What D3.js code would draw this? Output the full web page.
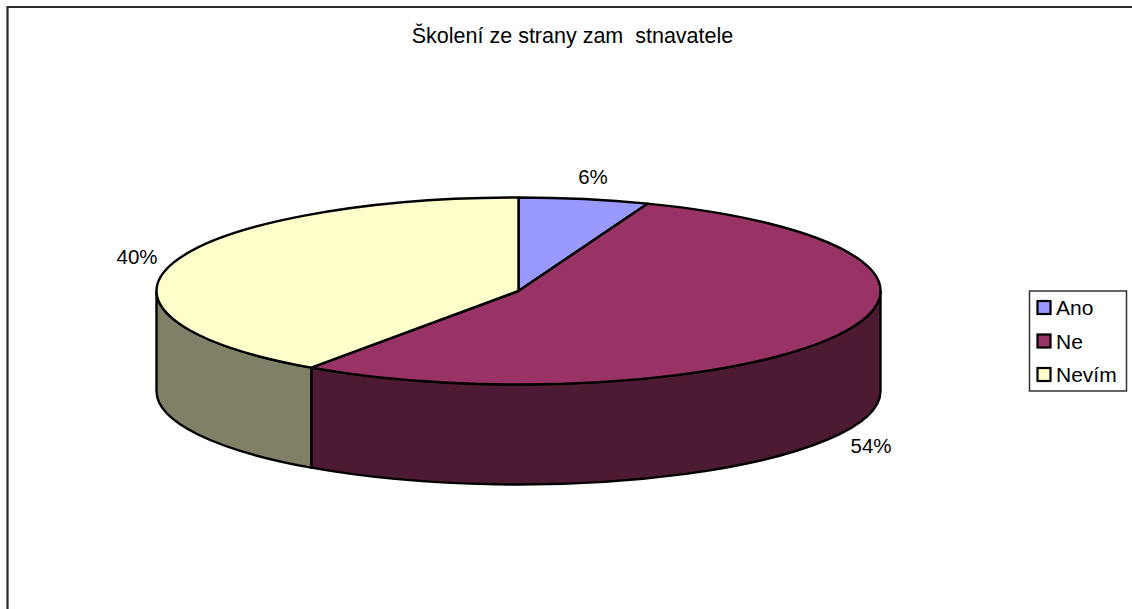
<!DOCTYPE html>
<html><head><meta charset="utf-8">
<script src="https://cdn.jsdelivr.net/npm/d3@7"></script>
<style>html,body{margin:0;padding:0;background:#fff}svg{display:block}text{font-family:"Liberation Sans",Arial,sans-serif;fill:#000;white-space:pre}</style>
</head><body><script>
const categories=["Ano","Ne","Nevím"];
const values=[5.8,53.9,40.3];
const labels=["6%","54%","40%"];
const topColors=["#9999FF","#993366","#FFFFCC"];
const sideColors=["#4D4D80","#4D1A33","#808066"];
const titleText="Školení ze strany zam  stnavatele";
const W=1132,H=609,cx=518.5,cy=291,rx=362,ry=93.5,depth=100;
const svg=d3.select("body").append("svg").attr("width",W).attr("height",H);
const x=d3.scaleLinear().domain([-1,1]).range([cx-rx,cx+rx]);
const y=d3.scaleLinear().domain([-1,1]).range([cy+ry,cy-ry]);
const px=a=>x(Math.sin(a)),py=a=>y(Math.cos(a));
const arcs=d3.pie().sort(null)(values);
// frame
svg.append("path").attr("d",`M7.5 ${H}V7H${W}`).attr("fill","none").attr("stroke","#2a2a2a").attr("stroke-width",2.2);
svg.append("text").attr("x",572.5).attr("y",43).attr("text-anchor","middle").attr("font-size",21.5).text(titleText);
// walls
const front0=Math.PI/2,front1=Math.PI*1.5;
arcs.forEach((d,i)=>{
  const a0=Math.max(d.startAngle,front0),a1=Math.min(d.endAngle,front1);
  if(a1<=a0)return;
  svg.append("path").attr("fill",sideColors[i]).attr("stroke","#000").attr("stroke-width",2.4).attr("stroke-linejoin","round")
   .attr("d",`M${px(a0)} ${py(a0)}A${rx} ${ry} 0 0 1 ${px(a1)} ${py(a1)}V${py(a1)+depth}A${rx} ${ry} 0 0 0 ${px(a0)} ${py(a0)+depth}Z`);
});
// top
arcs.forEach((d,i)=>{
  const large=d.endAngle-d.startAngle>Math.PI?1:0;
  svg.append("path").attr("fill",topColors[i]).attr("stroke","#000").attr("stroke-width",2.4).attr("stroke-linejoin","round")
   .attr("d",`M${x(0)} ${y(0)}L${px(d.startAngle)} ${py(d.startAngle)}A${rx} ${ry} 0 ${large} 1 ${px(d.endAngle)} ${py(d.endAngle)}Z`);
});
// data labels
const labelPos=[[593,184],[871,453],[137,264]];
labels.forEach((t,i)=>svg.append("text").attr("x",labelPos[i][0]).attr("y",labelPos[i][1]).attr("text-anchor","middle").attr("font-size",20.5).text(t));
// legend
svg.append("rect").attr("x",1029.5).attr("y",291).attr("width",97).attr("height",100).attr("fill","#fff").attr("stroke","#333").attr("stroke-width",1.5);
const ly=d3.scalePoint().domain(categories).range([307.5,374.5]);
categories.forEach((c,i)=>{
  svg.append("rect").attr("x",1037.5).attr("y",ly(c)-6.5).attr("width",13).attr("height",13).attr("fill",topColors[i]).attr("stroke","#000").attr("stroke-width",2.2);
  svg.append("text").attr("x",1056).attr("y",ly(c)+7.5).attr("font-size",21).text(c);
});
</script></body></html>
